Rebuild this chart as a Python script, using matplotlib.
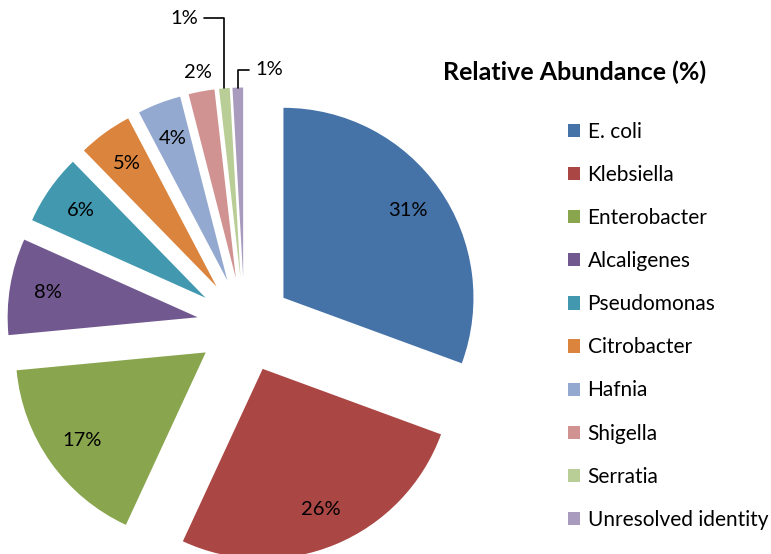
import matplotlib
matplotlib.use("Agg")
import matplotlib.pyplot as plt
import numpy as np

plt.rcParams['font.family'] = ['Lato', 'DejaVu Sans']

# 데이터
names = ['E. coli', 'Klebsiella', 'Enterobacter', 'Alcaligenes', 'Pseudomonas',
         'Citrobacter', 'Hafnia', 'Shigella', 'Serratia', 'Unresolved identity']
abundance = [30.6, 26.3, 16.6, 8.2, 6.0, 4.6, 3.7, 2.2, 0.9, 0.9]
colors = ['#4572A7', '#AA4643', '#89A54E', '#71588F', '#4198AF',
          '#DB843D', '#93A9CF', '#D19392', '#B9CD96', '#A99BBD']

W, H = 771, 554
cx, cy, R = 244.5, 325.0, 190.0   # 픽셀 기준 중심, 반지름

fig = plt.figure(figsize=(W / 100, H / 100), dpi=100)
ax = fig.add_axes([0, 0, 1, 1])

wedges, texts = ax.pie(abundance, colors=colors, startangle=90, counterclock=False,
                       explode=[0.25] * len(abundance), radius=1.0)

ax.set_xlim(-cx / R, (W - cx) / R)
ax.set_ylim(-(H - cy) / R, cy / R)
ax.set_aspect('equal')
ax.axis('off')

def wedge_point(w, dist):
    ang = np.deg2rad((w.theta1 + w.theta2) / 2)
    return (w.center[0] + dist * np.cos(ang), w.center[1] + dist * np.sin(ang))

fs = 14.5

# 퍼센트 라벨
for i, (w, v) in enumerate(zip(wedges, abundance)):
    lbl = '%.0f%%' % v
    if i < 7:
        ax.text(*wedge_point(w, 0.8), lbl, ha='center', va='center', fontsize=fs)
    elif i == 7:
        ax.text(*wedge_point(w, 1.1), lbl, ha='center', va='center', fontsize=fs)

# 리더선 라벨 (1%)
p = wedge_point(wedges[8], 1.0)
ax.annotate('%.0f%%' % abundance[8], xy=p, xytext=(p[0] - 40 / R, p[1] + 70 / R),
            ha='center', va='center', fontsize=fs,
            arrowprops=dict(arrowstyle='-', color='black', lw=1.2, shrinkA=2, shrinkB=0,
                            connectionstyle='angle,angleA=0,angleB=90,rad=0'))
p = wedge_point(wedges[9], 1.0)
ax.annotate('%.0f%%' % abundance[9], xy=p, xytext=(p[0] + 31 / R, p[1] + 18 / R),
            ha='center', va='center', fontsize=fs,
            arrowprops=dict(arrowstyle='-', color='black', lw=1.2, shrinkA=2, shrinkB=0,
                            connectionstyle='angle,angleA=0,angleB=90,rad=0'))

fig.text(575 / W, 1 - 72 / H, 'Relative Abundance (%)', ha='center', va='center',
         fontsize=18, fontweight='bold')

leg = fig.legend(wedges, names, loc='upper left', bbox_to_anchor=(549 / W, 1 - 103 / H),
                 frameon=False, fontsize=15, handlelength=0.6, handleheight=0.6,
                 handletextpad=0.35, labelspacing=1.11)

fig.savefig('out.png', dpi=100)
